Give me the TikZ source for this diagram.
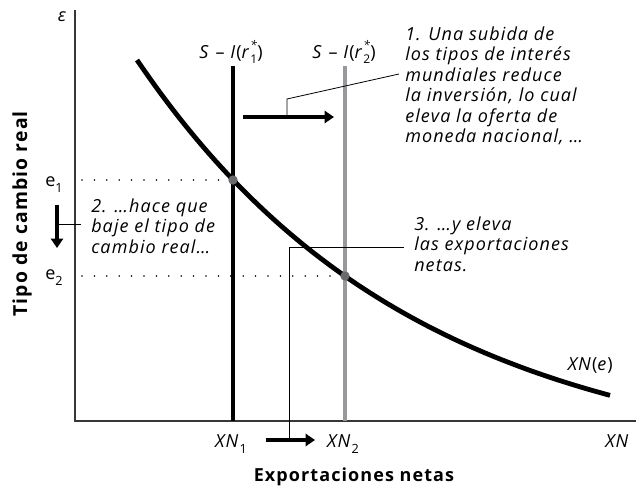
\documentclass[tikz,border=0pt]{standalone}
\usepackage{fontspec}
\setmainfont{Open Sans}[LetterSpace=6]
\usetikzlibrary{arrows.meta}

\definecolor{lightline}{RGB}{152,153,157}
\definecolor{eqgray}{RGB}{105,105,110}
\definecolor{axisgray}{RGB}{55,55,55}

% lowered subscript and r with star
\newcommand{\dn}[1]{\raisebox{-5pt}{\fontsize{9.5}{9.5}\selectfont #1}}
\newcommand{\rstar}[1]{\textit{r}\raisebox{-4pt}{\shortstack[l]{\fontsize{9}{9}\selectfont\itshape *\\[1pt]\fontsize{9}{9}\selectfont #1}}}

\tikzset{
  axis/.style={line width=0.9pt, draw=axisgray},
  schedule/.style={line width=3.6pt},
  guide/.style={line width=1.3pt, dash pattern=on 0pt off 9.3pt, line cap=round},
  leader/.style={line width=0.6pt},
  shiftarrow/.style={line width=3pt, -{Triangle[length=7pt,width=9pt]}},
  note/.style={font=\fontsize{13.5}{15.4}\selectfont\itshape, align=left, anchor=north west, inner sep=0pt},
  lbl/.style={font=\fontsize{13.5}{15}\selectfont, inner sep=0pt},
  axlabel/.style={font=\fontsize{13.5}{16}\selectfont\bfseries, inner sep=0pt},
  eqpoint/.style={circle, fill=eqgray, inner sep=0pt, minimum size=7pt},
}

\begin{document}
\begin{tikzpicture}[x=0.75pt,y=0.75pt,yscale=-1,xscale=1]
\useasboundingbox (0,0) rectangle (636,489);

%axes
\coordinate (ax-top) at (75,10);
\coordinate (origin) at (75,421);
\coordinate (ax-right) at (636,421);
\draw[axis] (ax-top) -- (origin) -- (ax-right);

%S - I lines
\coordinate (s1-top) at (233,66);
\coordinate (s1-foot) at (233,421);
\coordinate (s2-top) at (345,66);
\coordinate (s2-foot) at (345,421);
\draw[schedule, draw=lightline] (s2-top) -- (s2-foot);
\draw[schedule] (s1-top) -- (s1-foot);

%XN(e) curve
\draw[schedule] plot[domain=137:610, samples=80] (\x, {60+410*(1-exp(-0.0036*(\x-137)))});

%equilibria and dotted guides
\node[eqpoint] (eq1) at (233,180) {};
\node[eqpoint] (eq2) at (345,276) {};
\coordinate (e1-start) at (82,180);
\coordinate (e2-start) at (82,276);
\draw[guide] (e1-start) -- (eq1.west);
\draw[guide] (e2-start) -- (eq2.west);

%shift arrows
\coordinate (sh1-a) at (243,117);
\coordinate (sh1-b) at (334,117);
\draw[shiftarrow] (sh1-a) -- (sh1-b);
\coordinate (sh2-a) at (266,440);
\coordinate (sh2-b) at (315,440);
\draw[shiftarrow] (sh2-a) -- (sh2-b);
\coordinate (sh3-a) at (57,205);
\coordinate (sh3-b) at (57,248);
\draw[shiftarrow] (sh3-a) -- (sh3-b);

% Text Nodes
\node[lbl] (eps) at (62,17) {\itshape ε};
\node[lbl, anchor=base] (s1lab) at (231,58) {\textit{S} – \textit{I}(\rstar{1})};
\node[lbl, anchor=base] (s2lab) at (344,58) {\textit{S} – \textit{I}(\rstar{2})};
\node[lbl, anchor=base west] (e1lab) at (45,186) {e\dn{1}};
\node[lbl, anchor=base west] (e2lab) at (45,279) {e\dn{2}};
\node[lbl, anchor=base] (xn1) at (231,447) {\textit{XN}\dn{1}};
\node[lbl, anchor=base] (xn2) at (343,447) {\textit{XN}\dn{2}};
\node[lbl, anchor=base west] (xn) at (605,447) {\textit{XN}};
\node[lbl, anchor=base east] (xne) at (613,370) {\textit{XN}(\textit{e})};

\node[note] (note1) at (405,25.6) {\strut 1. Una subida de\\los tipos de interés\\mundiales reduce\\la inversión, lo cual\\eleva la oferta de\\moneda nacional, …};
\node[note] (note2) at (91,197.6) {\strut 2. …hace que\\baje el tipo de\\cambio real…};
\node[note] (note3) at (414,215.6) {\strut 3. …y eleva\\las exportaciones\\netas.};

\node[axlabel, rotate=90, font=\fontsize{14.5}{16}\selectfont\bfseries] (ylab) at (22,214) {Tipo de cambio real};
\node[axlabel, anchor=base] (xlab) at (354,481) {Exportaciones netas};

%leaders
\coordinate (ld1-foot) at (287,117);
\coordinate (ld1-knee) at (287,99);
\coordinate (ld1-end) at (399,74);
\draw[leader] (ld1-foot) -- (ld1-knee) -- (ld1-end);
\coordinate (ld2-a) at (57,224);
\coordinate (ld2-b) at (81,224);
\draw[leader] (ld2-a) -- (ld2-b);
\coordinate (ld3-foot) at (289,440);
\coordinate (ld3-knee) at (289,247);
\coordinate (ld3-end) at (404,247);
\draw[leader] (ld3-foot) -- (ld3-knee) -- (ld3-end);

\end{tikzpicture}
\end{document}
